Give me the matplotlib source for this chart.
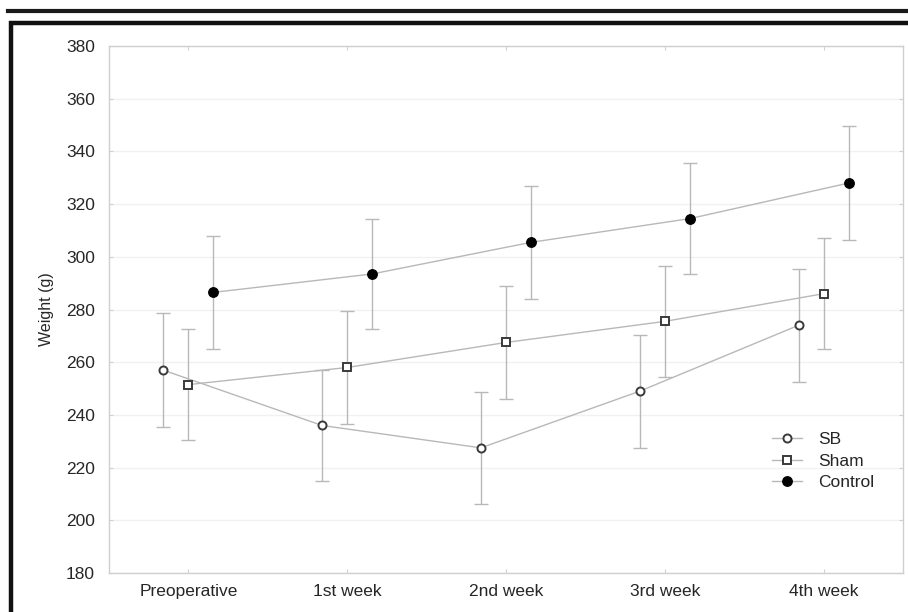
import numpy as np
import matplotlib
matplotlib.use("Agg")
import matplotlib.pyplot as plt
from matplotlib.lines import Line2D

plt.rcParams['font.family'] = ['Liberation Sans', 'DejaVu Sans']

# time points and group means / SD (g)
categories = ["Preoperative", "1st week", "2nd week", "3rd week", "4th week"]
sb_mean = [257, 236, 227.5, 249, 274]
sb_sd = [21.5, 21, 21.3, 21.5, 21.5]
sham_mean = [251.5, 258, 267.5, 275.5, 286]
sham_sd = [21, 21.5, 21.3, 21, 21]
control_mean = [286.5, 293.5, 305.5, 314.5, 328]
control_sd = [21.5, 21, 21.5, 21.2, 21.5]

LINE = "#b8b8b8"
EDGE = "#3a3a3a"
TEXT = "#262626"

fig = plt.figure(figsize=(9.08, 6.12), dpi=100)
ax = fig.add_axes([0.120, 0.0637, 0.8745, 0.8611])

x = np.arange(len(categories))
offset = 0.158

groups = [
    ("SB", sb_mean, sb_sd, -offset, dict(marker="o", markersize=5.8, markerfacecolor="white",
                                         markeredgecolor=EDGE, markeredgewidth=1.4)),
    ("Sham", sham_mean, sham_sd, 0.0, dict(marker="s", markersize=5.5, markerfacecolor="white",
                                           markeredgecolor=EDGE, markeredgewidth=1.4)),
    ("Control", control_mean, control_sd, offset, dict(marker="o", markersize=6.8,
                                                        markerfacecolor="black", markeredgecolor="black")),
]

handles = []
for name, mean, sd, dx, mstyle in groups:
    ax.errorbar(x + dx, mean, yerr=sd, fmt="none", ecolor=LINE, elinewidth=1.0,
                capsize=5, capthick=1.0, zorder=2)
    ax.plot(x + dx, mean, color=LINE, linewidth=1.0, zorder=3, **mstyle)
    handles.append(Line2D([], [], color=LINE, linewidth=1.0, **mstyle))

ax.set_xlim(-0.5, 4.5)
ax.set_ylim(180, 380)
ax.set_yticks(np.arange(180, 381, 20))
ax.set_xticks(x)
ax.set_xticklabels(categories)
ax.set_ylabel("Weight (g)", fontsize=11.5, labelpad=9, color=TEXT)

ax.yaxis.grid(True, color="#f1f1f1", linewidth=1.0)
ax.set_axisbelow(True)
for s in ax.spines.values():
    s.set_color("#cfcfcf")
    s.set_linewidth(1.0)
ax.tick_params(axis="both", direction="in", length=3, color="#d0d0d0",
               labelsize=12.5, labelcolor=TEXT)
ax.tick_params(axis="y", right=True, pad=10)
ax.tick_params(axis="x", top=True, pad=8)

leg = ax.legend(handles, ["SB", "Sham", "Control"], loc="upper left",
                bbox_to_anchor=(0.835, 0.268), frameon=False, fontsize=12.5,
                handlelength=1.7, handletextpad=0.95, labelspacing=0.38,
                borderaxespad=0, borderpad=0)
for t in leg.get_texts():
    t.set_color(TEXT)

# page frame around the figure
fig.add_artist(Line2D([8 / 908, 1.0], [1 - 11 / 612] * 2, transform=fig.transFigure,
                      color="#1a1a1a", linewidth=3.0))
fig.add_artist(Line2D([11 / 908, 11 / 908, 1.0], [0.0, 1 - 23 / 612, 1 - 23 / 612],
                      transform=fig.transFigure, color="#111111", linewidth=3.2,
                      solid_joinstyle="miter"))

fig.savefig("out.png", dpi=100)
